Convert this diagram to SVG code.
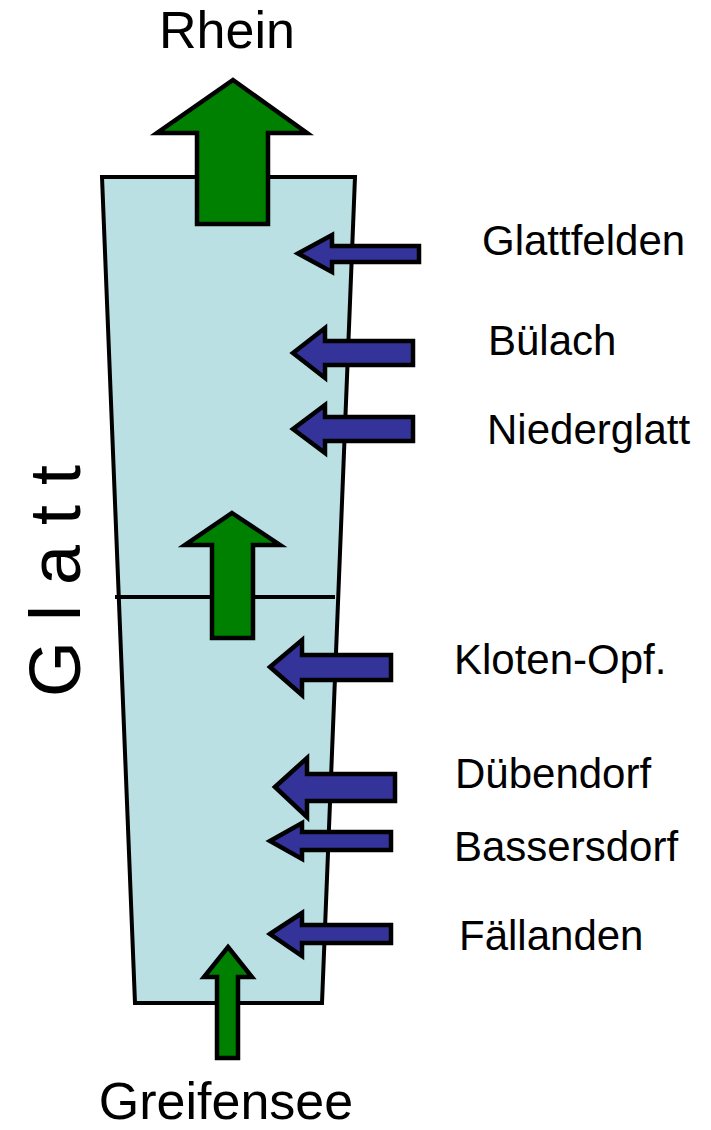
<svg xmlns="http://www.w3.org/2000/svg" width="711" height="1130" viewBox="0 0 711 1130">
<style>
.lbl{font-family:"Liberation Sans",Arial,sans-serif;font-size:42px;fill:#000}
.big{font-family:"Liberation Sans",Arial,sans-serif;font-size:52px;fill:#000}
.green{fill:#008000;stroke:#000;stroke-width:4.5;stroke-linejoin:miter}
.blue{fill:#333399;stroke:#000;stroke-width:4.5;stroke-linejoin:miter}
</style>
<rect width="711" height="1130" fill="#fff"/>
<g id="glatt">
<polygon points="102,177 355,177 322,1003 135,1003" fill="#bae0e3" stroke="#000" stroke-width="4"/>
<line x1="115" y1="597" x2="335" y2="597" stroke="#000" stroke-width="4"/>
<text transform="translate(80,697) rotate(-90)" font-family="'Liberation Sans',Arial,sans-serif" font-size="72">G l a t t</text>
</g>
<g id="connectors">
<polygon class="green" points="233,80 307,133 268,133 268,224 197,224 197,133 157,133"/>
<polygon class="green" points="232,513 280,545 253,545 253,638 212,638 212,545 185,545"/>
<polygon class="green" points="228,947 252,977 238,977 238,1058 217,1058 217,977 204,977"/>
<polygon class="blue" points="298,253.5 332,235 332,246 419,246 419,262 332,262 332,272"/>
<polygon class="blue" points="293,353 325,328 325,341 413,341 413,365 325,365 325,378"/>
<polygon class="blue" points="293,429 325,405 325,417 413,417 413,441 325,441 325,453"/>
<polygon class="blue" points="270,667 302,640 302,655 391,655 391,680 302,680 302,695"/>
<polygon class="blue" points="275,787 307,758 307,774 395,774 395,801 307,801 307,817"/>
<polygon class="blue" points="270,841 302,823 302,832 391,832 391,850 302,850 302,859"/>
<polygon class="blue" points="270,934 302,913 302,925 391,925 391,943 302,943 302,956"/>
</g>
<g id="rhein"><text class="big" x="227" y="48" text-anchor="middle">Rhein</text></g>
<g id="greifensee"><text class="big" x="226" y="1119" text-anchor="middle">Greifensee</text></g>
<g id="glattfelden"><text class="lbl" x="482" y="255">Glattfelden</text></g>
<g id="buelach"><text class="lbl" x="488" y="355">Bülach</text></g>
<g id="niederglatt"><text class="lbl" x="487" y="444">Niederglatt</text></g>
<g id="kloten"><text class="lbl" x="454" y="674">Kloten-Opf.</text></g>
<g id="duebendorf"><text class="lbl" x="455" y="788">Dübendorf</text></g>
<g id="bassersdorf"><text class="lbl" x="454" y="861">Bassersdorf</text></g>
<g id="faellanden"><text class="lbl" x="459" y="950">Fällanden</text></g>
</svg>
